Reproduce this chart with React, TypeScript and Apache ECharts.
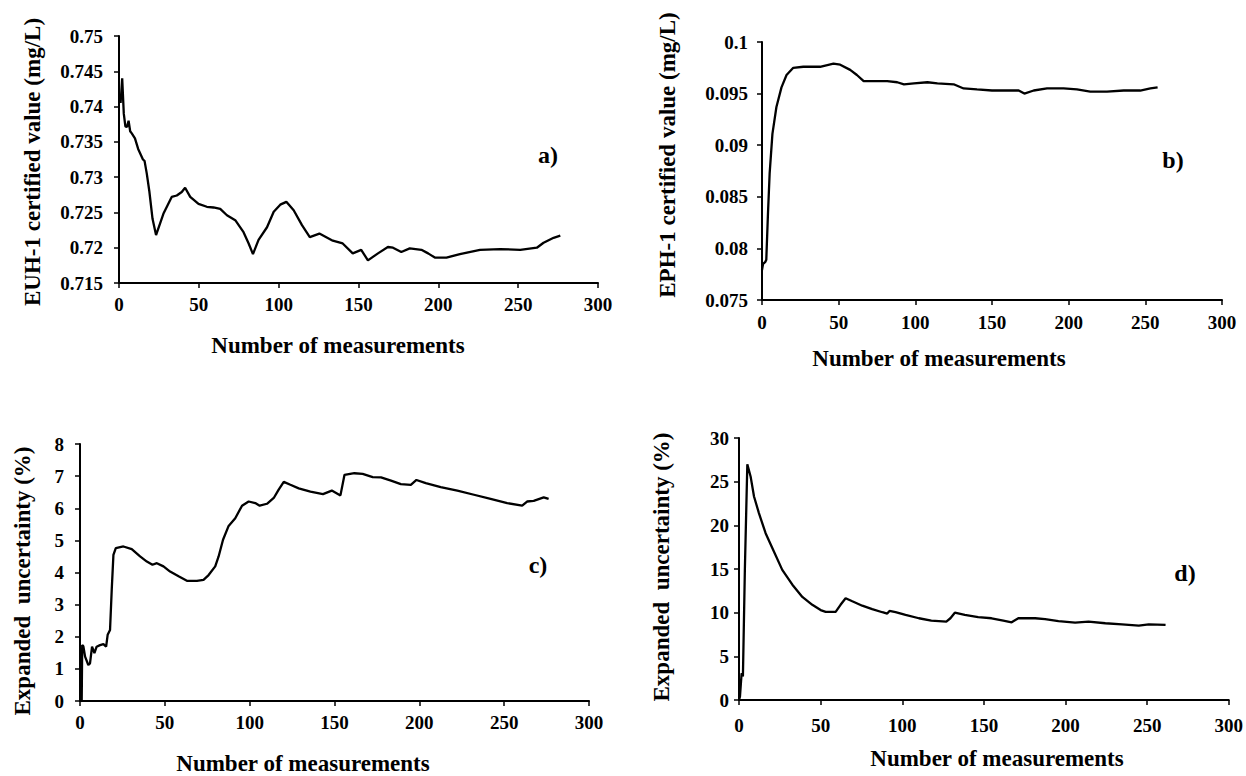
import React, { useEffect, useRef } from "react";
import * as echarts from "echarts";

// a) EUH-1 certified value (mg/L)
const aX = [1, 2, 3, 4, 5, 6, 7, 8, 10, 12, 14, 15, 16, 17.4, 19, 21, 23.2, 27.8, 33, 36.2, 39.3, 41.4, 44.6, 49.8, 55, 59.2, 63.4, 67.6, 72.8, 78, 81.2, 83.9, 87.4, 92.7, 96.9, 101, 104.8, 109.4, 114.6, 119.5, 125.5, 133.9, 140.1, 146.4, 151.7, 155.9, 162.2, 168.4, 171.6, 176.8, 182.1, 189.4, 193.6, 197.8, 205.1, 213.5, 226.1, 238.7, 251.3, 261.7, 265.9, 272.2, 276.4];
const aY = [0.7405, 0.744, 0.739, 0.7372, 0.7371, 0.738, 0.7365, 0.7362, 0.7355, 0.734, 0.733, 0.7325, 0.7323, 0.7305, 0.728, 0.7241, 0.7218, 0.7248, 0.7272, 0.7274, 0.7279, 0.7285, 0.7272, 0.7262, 0.7258, 0.7257, 0.7255, 0.7246, 0.7239, 0.7222, 0.7206, 0.7191, 0.7211, 0.7229, 0.7251, 0.7261, 0.7265, 0.7253, 0.7232, 0.7215, 0.722, 0.721, 0.7206, 0.7192, 0.7197, 0.7182, 0.7192, 0.7201, 0.72, 0.7194, 0.7199, 0.7197, 0.7192, 0.7186, 0.7186, 0.7191, 0.7197, 0.7198, 0.7197, 0.72, 0.7207, 0.7214, 0.7217];

// b) EPH-1 certified value (mg/L)
const bX = [0, 0.7, 2.2, 2.8, 3.9, 5, 6.8, 9.4, 12.7, 16, 20.4, 26.9, 37.9, 46.6, 51, 57.5, 61.9, 66.3, 72.9, 81.6, 88.2, 92.6, 99.1, 107.9, 114.4, 125, 131.5, 140.2, 150, 159.8, 167.4, 171.1, 177.2, 185.9, 196.7, 205.4, 214.1, 225, 235.9, 246.7, 253.3, 258];
const bY = [0.0779, 0.0785, 0.0787, 0.0789, 0.0834, 0.0873, 0.0911, 0.0937, 0.0956, 0.0968, 0.0975, 0.0976, 0.0976, 0.0979, 0.0978, 0.0973, 0.0968, 0.0962, 0.0962, 0.0962, 0.0961, 0.0959, 0.096, 0.0961, 0.096, 0.0959, 0.0955, 0.0954, 0.0953, 0.0953, 0.0953, 0.095, 0.0953, 0.0955, 0.0955, 0.0954, 0.0952, 0.0952, 0.0953, 0.0953, 0.0955, 0.0956];

// c) Expanded uncertainty (%) for EUH-1
const cX = [0, 1, 1.3, 2, 3, 4.9, 5.9, 7.1, 8.5, 9.8, 11.8, 13.8, 15.4, 16.3, 17.7, 18.7, 19.7, 21.1, 25.6, 30.5, 35.4, 39.4, 42.7, 45.3, 49.2, 53.1, 58.1, 63, 68.9, 72.8, 75.8, 79.7, 81.7, 84.3, 87.6, 91.5, 95.5, 99.4, 103.3, 105.9, 110.2, 114.2, 117.1, 120.1, 124, 128.9, 135.8, 143.2, 148.4, 153.5, 155.9, 161.7, 166.6, 172.5, 177.4, 183.3, 189.1, 195, 198.3, 203.8, 212.6, 222.4, 232.2, 242, 251.8, 260.6, 263.5, 267.4, 273.3, 276.2];
const cY = [0, 0, 1.74, 1.7, 1.38, 1.12, 1.17, 1.69, 1.49, 1.69, 1.74, 1.77, 1.69, 2.06, 2.21, 3.46, 4.55, 4.76, 4.81, 4.73, 4.5, 4.34, 4.24, 4.29, 4.19, 4.03, 3.88, 3.74, 3.74, 3.77, 3.92, 4.19, 4.5, 5.02, 5.45, 5.69, 6.08, 6.21, 6.16, 6.08, 6.14, 6.32, 6.58, 6.82, 6.73, 6.62, 6.52, 6.44, 6.55, 6.4, 7.04, 7.09, 7.07, 6.97, 6.96, 6.86, 6.75, 6.73, 6.88, 6.78, 6.66, 6.55, 6.42, 6.29, 6.16, 6.08, 6.21, 6.23, 6.34, 6.29];

// d) Expanded uncertainty (%) for EPH-1
const dX = [0, 0.6, 1.6, 2.4, 3.6, 5.1, 7.1, 9.2, 12.2, 16.3, 20.4, 26.5, 32.7, 38.8, 44.9, 50, 53.1, 59.2, 62.2, 65.3, 69.4, 75.5, 81.6, 87.8, 90.8, 92.2, 95.9, 102, 110.2, 117.8, 127, 129.5, 132.2, 138.3, 146.5, 154.7, 161.9, 167, 171.1, 181.4, 187.5, 195.7, 205.9, 214.1, 224.4, 234.6, 244.9, 251, 261.3];
const dY = [0, 0.4, 3.06, 2.7, 15, 27, 25.6, 23.3, 21.4, 19.1, 17.4, 14.9, 13.2, 11.8, 10.9, 10.3, 10.1, 10.1, 10.9, 11.65, 11.3, 10.8, 10.4, 10.05, 9.9, 10.2, 10.05, 9.74, 9.36, 9.1, 8.98, 9.36, 10.0, 9.74, 9.48, 9.36, 9.1, 8.9, 9.36, 9.36, 9.25, 9.02, 8.87, 8.98, 8.79, 8.67, 8.52, 8.67, 8.6];

const xTitle = "Number of measurements";
const yTitles = [
  "EUH-1 certified value (mg/L)",
  "EPH-1 certified value (mg/L)",
  "Expanded  uncertainty (%)",
  "Expanded  uncertainty (%)",
];
const panelLabels = ["a)", "b)", "c)", "d)"];

const FONT = "Liberation Serif";

const zip = (xs: number[], ys: number[]) => xs.map((x, i) => [x, ys[i]]);

export default function App() {
  const ref = useRef<HTMLDivElement>(null);
  useEffect(() => {
    if (!ref.current) return;
    const chart = echarts.init(ref.current, undefined, { renderer: "svg" });

    const grids = [
      { left: 119, top: 36, width: 479, height: 247 },
      { left: 762, top: 42, width: 460, height: 258 },
      { left: 80, top: 444, width: 509, height: 257 },
      { left: 739, top: 438, width: 492, height: 262 },
    ];
    const yRanges = [
      { min: 0.715, max: 0.75, interval: 0.005 },
      { min: 0.075, max: 0.1, interval: 0.005 },
      { min: 0, max: 8, interval: 1 },
      { min: 0, max: 30, interval: 5 },
    ];
    const xMargins = [12, 13, 12, 16];
    const yMargins = [16, 14, 16, 10];

    const axisLine = { show: true, lineStyle: { color: "#000", width: 2 } };
    const axisTick = { show: true, length: 5, lineStyle: { color: "#000", width: 1.5 } };
    const labelBase = { color: "#000", fontFamily: FONT, fontWeight: "bold" as const, fontSize: 19 };

    const xAxes = grids.map((_, i) => ({
      type: "value" as const,
      gridIndex: i,
      min: 0,
      max: 300,
      interval: 50,
      axisLine,
      axisTick,
      splitLine: { show: false },
      axisLabel: { ...labelBase, margin: xMargins[i] },
    }));
    const yAxes = grids.map((_, i) => ({
      type: "value" as const,
      gridIndex: i,
      ...yRanges[i],
      axisLine,
      axisTick,
      splitLine: { show: false },
      axisLabel: {
        ...labelBase,
        margin: yMargins[i],
        formatter: (v: number) => String(+v.toFixed(4)),
      },
    }));

    const datasets = [zip(aX, aY), zip(bX, bY), zip(cX, cY), zip(dX, dY)];
    const series = datasets.map((data, i) => ({
      type: "line" as const,
      xAxisIndex: i,
      yAxisIndex: i,
      data,
      showSymbol: false,
      symbol: "none",
      lineStyle: { color: "#000", width: 2.3 },
    }));

    const titleStyle = { fill: "#000", fontFamily: FONT, fontWeight: "bold", fontSize: 23 };
    const xTitlePos = [
      [338, 345],
      [939, 358],
      [303, 763],
      [997, 758],
    ];
    const yTitlePos = [
      [32, 162],
      [667, 155],
      [22, 581],
      [661, 567],
    ];
    const panelPos = [
      [548, 155],
      [1173, 160],
      [538, 565],
      [1185, 573],
    ];
    const graphic: any[] = [];
    for (let i = 0; i < 4; i++) {
      graphic.push({
        type: "text",
        x: xTitlePos[i][0],
        y: xTitlePos[i][1],
        style: { ...titleStyle, text: xTitle, align: "center", verticalAlign: "middle" },
      });
      graphic.push({
        type: "text",
        x: yTitlePos[i][0],
        y: yTitlePos[i][1],
        rotation: Math.PI / 2,
        style: { ...titleStyle, text: yTitles[i], align: "center", verticalAlign: "middle" },
      });
      graphic.push({
        type: "text",
        x: panelPos[i][0],
        y: panelPos[i][1],
        style: { ...titleStyle, fontSize: 24, text: panelLabels[i], align: "center", verticalAlign: "middle" },
      });
    }

    chart.setOption({
      animation: false,
      backgroundColor: "#fff",
      grid: grids,
      xAxis: xAxes,
      yAxis: yAxes,
      series,
      graphic,
    });
    return () => chart.dispose();
  }, []);

  return (
    <div
      ref={ref}
      style={{ position: "fixed", left: 0, top: 0, width: 1246, height: 776, background: "#fff" }}
    />
  );
}
